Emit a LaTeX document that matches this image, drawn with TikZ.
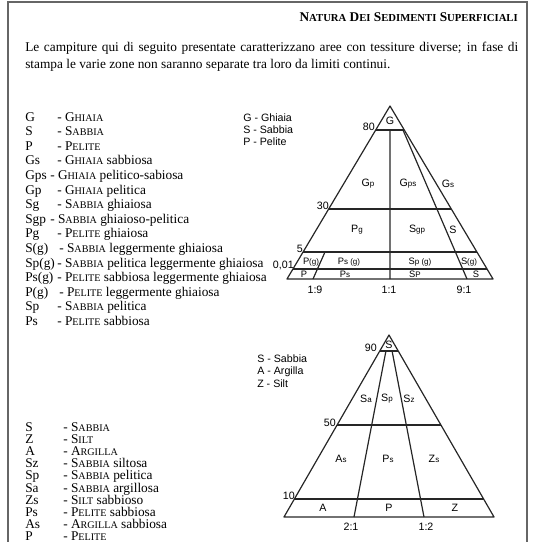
\documentclass[tikz,border=0pt]{standalone}
\usepackage{fontspec}
\setmainfont{Liberation Serif}
\newfontfamily\hsans{Liberation Sans}
\usetikzlibrary{calc}
\newcommand\smc[1]{{\fontsize{7.6pt}{9pt}\selectfont #1}}
\newcommand\bsmc[1]{{\fontsize{8pt}{9pt}\selectfont #1}}
\newcommand\lb[2]{#1{\fontsize{6pt}{7pt}\selectfont #2}}
\begin{document}
\begin{tikzpicture}[x=0.75pt,y=-0.75pt,
  frame/.style={draw=black!60,line width=1.1pt},
  tri/.style={draw=black!85,line width=0.9pt,line join=round},
  txt/.style={font=\fontsize{10pt}{12.75pt}\selectfont,inner sep=0pt},
  leg/.style={font=\fontsize{10pt}{11pt}\selectfont,anchor=base west,inner sep=0pt},
  sl/.style={font=\hsans\fontsize{8pt}{9pt}\selectfont,inner sep=0pt,anchor=west},
  tl/.style={font=\hsans\fontsize{8pt}{9pt}\selectfont,inner sep=0pt},
  sm/.style={font=\hsans\fontsize{7pt}{8pt}\selectfont,inner sep=0pt},
  num/.style={font=\hsans\fontsize{8pt}{9pt}\selectfont,inner sep=0pt,anchor=east}]
\useasboundingbox (0,0) rectangle (532,542);
\clip (0,0) rectangle (532,542);
\draw[frame] (8,600) -- (8,2) -- (527,2) -- (527,600);

% title and paragraph
\node[anchor=base east,font=\bfseries\fontsize{10pt}{11pt}\selectfont,inner sep=0pt] (title) at (518,22)
  {N\bsmc{ATURA} D\bsmc{EI} S\bsmc{EDIMENTI} S\bsmc{UPERFICIALI}};
\node[txt,anchor=base west] (p1) at (25,52)
  {\makebox[369.75pt][s]{Le campiture qui di seguito presentate caratterizzano aree con tessiture diverse; in fase di}};
\node[txt,anchor=base west] (p2) at (25,69)
  {stampa le varie zone non saranno separate tra loro da limiti continui.};

% top legend
\node[leg] (a0) at (25,121) {G};      \node[leg] (d0) at (57,121) {- G\smc{HIAIA}};
\node[leg] (a1) at (25,135.6) {S};    \node[leg] (d1) at (57,135.6) {- S\smc{ABBIA}};
\node[leg] (a2) at (25,150.2) {P};    \node[leg] (d2) at (57,150.2) {- P\smc{ELITE}};
\node[leg] (a3) at (25,164.8) {Gs};   \node[leg] (d3) at (57,164.8) {- G\smc{HIAIA} sabbiosa};
\node[leg] (a4) at (25,179.4) {Gps};  \node[leg] (d4) at (50,179.4) {- G\smc{HIAIA} pelitico-sabiosa};
\node[leg] (a5) at (25,194) {Gp};     \node[leg] (d5) at (57,194) {- G\smc{HIAIA} pelitica};
\node[leg] (a6) at (25,208.6) {Sg};   \node[leg] (d6) at (57,208.6) {- S\smc{ABBIA} ghiaiosa};
\node[leg] (a7) at (25,223.2) {Sgp};  \node[leg] (d7) at (50,223.2) {- S\smc{ABBIA} ghiaioso-pelitica};
\node[leg] (a8) at (25,237.8) {Pg};   \node[leg] (d8) at (57,237.8) {- P\smc{ELITE} ghiaiosa};
\node[leg] (a9) at (25,252.4) {S(g)}; \node[leg] (d9) at (59,252.4) {- S\smc{ABBIA} leggermente ghiaiosa};
\node[leg] (a10) at (25,267) {Sp(g)}; \node[leg] (d10) at (57,267) {- S\smc{ABBIA} pelitica leggermente ghiaiosa};
\node[leg] (a11) at (25,281.6) {Ps(g)}; \node[leg] (d11) at (57,281.6) {- P\smc{ELITE} sabbiosa leggermente ghiaiosa};
\node[leg] (a12) at (25,296.2) {P(g)}; \node[leg] (d12) at (59,296.2) {- P\smc{ELITE} leggermente ghiaiosa};
\node[leg] (a13) at (25,310.8) {Sp};  \node[leg] (d13) at (57,310.8) {- S\smc{ABBIA} pelitica};
\node[leg] (a14) at (25,325.4) {Ps};  \node[leg] (d14) at (57,325.4) {- P\smc{ELITE} sabbiosa};

% bottom legend
\node[leg] (b0) at (25,431.5) {S};  \node[leg] (e0) at (63,431.5) {- S\smc{ABBIA}};
\node[leg] (b1l) at (25,443.6) {Z}; \node[leg] (e1) at (63,443.6) {- S\smc{ILT}};
\node[leg] (b2l) at (25,455.7) {A}; \node[leg] (e2) at (63,455.7) {- A\smc{RGILLA}};
\node[leg] (b3) at (25,467.8) {Sz}; \node[leg] (e3) at (63,467.8) {- S\smc{ABBIA} siltosa};
\node[leg] (b4) at (25,479.9) {Sp}; \node[leg] (e4) at (63,479.9) {- S\smc{ABBIA} pelitica};
\node[leg] (b5) at (25,492) {Sa};   \node[leg] (e5) at (63,492) {- S\smc{ABBIA} argillosa};
\node[leg] (b6) at (25,504.1) {Zs}; \node[leg] (e6) at (63,504.1) {- S\smc{ILT} sabbioso};
\node[leg] (b7) at (25,516.2) {Ps}; \node[leg] (e7) at (63,516.2) {- P\smc{ELITE} sabbiosa};
\node[leg] (b8) at (25,528.3) {As}; \node[leg] (e8) at (63,528.3) {- A\smc{RGILLA} sabbiosa};
\node[leg] (b9) at (25,540.4) {P};  \node[leg] (e9) at (63,540.4) {- P\smc{ELITE}};

% right legends
\node[sl] (r1) at (243,118) {G - Ghiaia};
\node[sl] (r2) at (243,130) {S - Sabbia};
\node[sl] (r3) at (243,142) {P - Pelite};
\node[sl] (q1) at (257,359) {S - Sabbia};
\node[sl] (q2) at (257,371.5) {A - Argilla};
\node[sl] (q3) at (257,384) {Z - Silt};

% ---- top triangle
\coordinate (A) at (390,106);
\coordinate (BL) at (287,279);
\coordinate (BR) at (493,279);
\coordinate (g80l) at ($(A)!0.1387!(BL)$); \coordinate (g80r) at ($(A)!0.1387!(BR)$);
\coordinate (g30l) at ($(A)!0.5954!(BL)$); \coordinate (g30r) at ($(A)!0.5954!(BR)$);
\coordinate (g5l) at ($(A)!0.8439!(BL)$);  \coordinate (g5r) at ($(A)!0.8439!(BR)$);
\coordinate (g1l) at ($(A)!0.9422!(BL)$);  \coordinate (g1r) at ($(A)!0.9422!(BR)$);
\coordinate (gc80) at ($(g80l)!0.5!(g80r)$);
\coordinate (gcb) at ($(BL)!0.5!(BR)$);
\coordinate (rs1) at (403,130); \coordinate (rs2) at (467,279);
\coordinate (ls1) at (325,252); \coordinate (ls2) at (313,279);
\draw[tri] (A) -- (BL) -- (BR) -- cycle;
\draw[tri] (g80l) -- (g80r);
\draw[tri] (g30l) -- (g30r);
\draw[tri] (g5l) -- (g5r);
\draw[tri] (g1l) -- (g1r);
\draw[tri] (gc80) -- (gcb);
\draw[tri] (rs1) -- (rs2);
\draw[tri] (ls1) -- (ls2);

\node[tl] (tG) at (390,121) {G};
\node[num] (n80) at (375,127) {80};
\node[num] (n30) at (329,206) {30};
\node[num] (n5) at (303,249) {5};
\node[num] (n001) at (294,265) {0,01};
\node[tl] (tGp) at (368,184) {\lb{G}{p}};
\node[tl] (tGps) at (408,184) {\lb{G}{ps}};
\node[tl] (tGs) at (448,184) {\lb{G}{s}};
\node[tl] (tPg) at (357,230) {\lb{P}{g}};
\node[tl] (tSgp) at (417,230) {\lb{S}{gp}};
\node[tl] (tS1) at (453,230) {S};
\node[sm] (tPgg) at (311,262) {\lb{P}{(g)}};
\node[sm] (tPsg) at (349,262) {\lb{P}{s (g)}};
\node[sm] (tSpg) at (420,262) {\lb{S}{p (g)}};
\node[sm] (tSg) at (469,262) {\lb{S}{(g)}};
\node[sm] (tP) at (304,274) {P};
\node[sm] (tPs) at (345,274) {\lb{P}{s}};
\node[sm] (tSP) at (415,274) {S{\fontsize{6pt}{7pt}\selectfont P}};
\node[sm] (tS2) at (476,274) {S};
\node[tl] (t19) at (315,290) {1:9};
\node[tl] (t11) at (389,290) {1:1};
\node[tl] (t91) at (464,290) {9:1};

% ---- bottom triangle
\coordinate (B) at (389,335);
\coordinate (CL) at (284,517);
\coordinate (CR) at (494,517);
\coordinate (h90l) at ($(B)!0.0879!(CL)$); \coordinate (h90r) at ($(B)!0.0879!(CR)$);
\coordinate (h50l) at ($(B)!0.4945!(CL)$); \coordinate (h50r) at ($(B)!0.4945!(CR)$);
\coordinate (h10l) at ($(B)!0.9011!(CL)$); \coordinate (h10r) at ($(B)!0.9011!(CR)$);
\coordinate (k1) at ($(CL)!1/3!(CR)$);
\coordinate (k2) at ($(CL)!2/3!(CR)$);
\coordinate (k1t) at ($(B)!0.0879!(k1)$);
\coordinate (k2t) at ($(B)!0.0879!(k2)$);
\draw[tri] (B) -- (CL) -- (CR) -- cycle;
\draw[tri] (h90l) -- (h90r);
\draw[tri] (h50l) -- (h50r);
\draw[tri] (h10l) -- (h10r);
\draw[tri] (k1t) -- (k1);
\draw[tri] (k2t) -- (k2);

\node[tl] (uS) at (389,345) {S};
\node[num] (n90) at (377,348) {90};
\node[num] (n50) at (336,423) {50};
\node[num] (n10) at (295,496) {10};
\node[tl] (uSa) at (366,399) {\lb{S}{a}};
\node[tl] (uSp) at (387,399) {\lb{S}{p}};
\node[tl] (uSz) at (409,399) {\lb{S}{z}};
\node[tl] (uAs) at (341,459) {\lb{A}{s}};
\node[tl] (uPs) at (388,459) {\lb{P}{s}};
\node[tl] (uZs) at (434,459) {\lb{Z}{s}};
\node[tl] (uA) at (323,508) {A};
\node[tl] (uP) at (389,508) {P};
\node[tl] (uZ) at (455,508) {Z};
\node[tl] (u21) at (351,527) {2:1};
\node[tl] (u12) at (426,527) {1:2};
\end{tikzpicture}
\end{document}
